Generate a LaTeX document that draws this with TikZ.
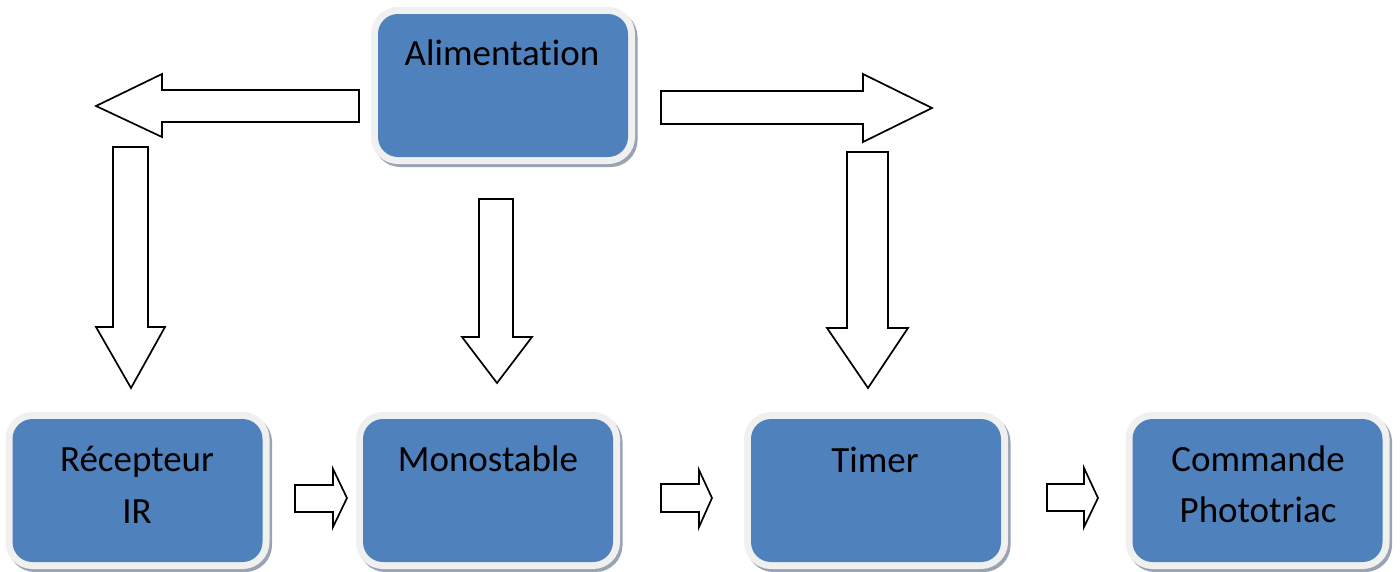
\documentclass[tikz,border=0pt]{standalone}
\usepackage{fontspec}
\setmainfont{Carlito}[RawFeature={-liga;-dlig;-calt;-clig}]
\definecolor{boxblue}{HTML}{4F81BD}
\definecolor{rimgray}{HTML}{F0F0F0}
\definecolor{shadowgray}{HTML}{9AA3B2}
\tikzset{
  blk/.style={rectangle, rounded corners=20pt, fill=boxblue, draw=none,
    minimum width=250pt, minimum height=143pt, inner sep=0pt,
    preaction={draw=shadowgray, line width=14pt, transform canvas={shift={(2.5pt,-3pt)}}},
    preaction={draw=rimgray, line width=14pt}},
  lbl/.style={anchor=base, font=\fontsize{37}{44}\selectfont, text=black, inner sep=0pt},
  barrow/.style={draw=black, line width=1.7pt, fill=white, line join=miter}
}
\begin{document}
\begin{tikzpicture}[x=1pt, y=-1pt]
\useasboundingbox[fill=white] (0,0) rectangle (1400,571);
% boxes
\node[blk] (alim) at (503,85.5) {};
\node[blk] (recep) at (137.5,490.5) {};
\node[blk] (mono) at (488,490.5) {};
\node[blk] (timer) at (876,490.5) {};
\node[blk] (cmd) at (1257.5,490.5) {};
% labels
\node[lbl] (alimT) at (502,65) {Alimentation};
\node[lbl] (recepT1) at (137,471) {Récepteur};
\node[lbl] (recepT2) at (137,523) {IR};
\node[lbl] (monoT) at (488,471) {Monostable};
\node[lbl] (timerT) at (875,472) {Timer};
\node[lbl] (cmdT1) at (1258,471) {Commande};
\node[lbl] (cmdT2) at (1258,522) {Phototriac};
% block arrows
\draw[barrow] (359,90) -- (162,90) -- (162,74) -- (96,106) -- (162,137) -- (162,122) -- (359,122) -- cycle;
\draw[barrow] (661,91) -- (863,91) -- (863,74) -- (932,108) -- (863,142) -- (863,124) -- (661,124) -- cycle;
\draw[barrow] (113,147) -- (148,147) -- (148,327) -- (165,327) -- (131,388) -- (96,327) -- (113,327) -- cycle;
\draw[barrow] (479,199) -- (513,199) -- (513,337) -- (532,337) -- (497,383) -- (462,337) -- (479,337) -- cycle;
\draw[barrow] (847,152) -- (888,152) -- (888,328) -- (908,328) -- (868,388) -- (827,328) -- (847,328) -- cycle;
\draw[barrow] (295,485) -- (333,485) -- (333,469) -- (347,498) -- (333,527) -- (333,512) -- (295,512) -- cycle;
\draw[barrow] (661,484) -- (699,484) -- (699,470) -- (712,498) -- (699,527) -- (699,512) -- (661,512) -- cycle;
\draw[barrow] (1047,484) -- (1084,484) -- (1084,468) -- (1098,498) -- (1084,527) -- (1084,511) -- (1047,511) -- cycle;
\end{tikzpicture}
\end{document}
